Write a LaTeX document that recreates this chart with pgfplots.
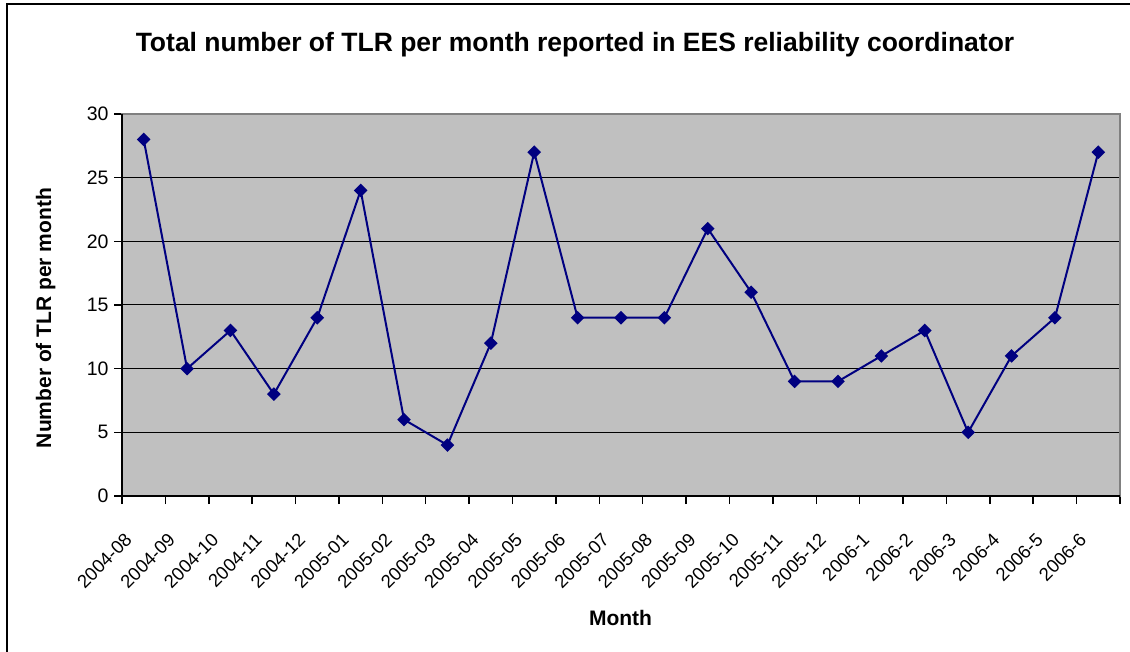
\documentclass[border=0pt]{standalone}
\usepackage{pgfplots}
\pgfplotsset{compat=1.18}
\usepackage{fontspec}
\setmainfont{Liberation Sans}
\definecolor{navy}{RGB}{0,0,128}
\definecolor{plotgray}{RGB}{192,192,192}
\definecolor{framegray}{RGB}{128,128,128}
\begin{document}
\begin{tikzpicture}
\useasboundingbox (0pt,0pt) rectangle (1130pt,651pt);
\draw[line width=2pt] (7pt,-20pt) -- (7pt,647pt) -- (1150pt,647pt);
\node[anchor=base, font=\bfseries\fontsize{26.5}{30}\selectfont] at (575pt,599pt) {Total number of TLR per month reported in EES reliability coordinator};
\node[anchor=base, rotate=90, font=\bfseries\fontsize{21}{24}\selectfont] at (51pt,333pt) {Number of TLR per month};
\node[anchor=base, font=\bfseries\fontsize{21}{24}\selectfont] at (620.5pt,26pt) {Month};
\begin{axis}[at={(122pt,155pt)}, anchor=south west, scale only axis,
  width=998pt, height=382pt,
  xmin=0.5, xmax=23.5, ymin=0, ymax=30,
  axis background/.style={fill=plotgray},
  axis line style={draw=framegray, line width=1.5pt},
  ytick={0,5,...,30},
  ymajorgrids, grid style={black, line width=1pt},
  tick align=outside, tick pos=left,
  major tick length=8pt,
  tick style={black, line width=1.5pt},
  /pgf/number format/assume math mode=true,
  yticklabel style={font=\fontsize{19.5}{21}\selectfont, xshift=-2pt},
  xtick={0.5,1.5,...,23.5},
  xticklabels={},
  extra x ticks={1,...,23},
  extra x tick style={major tick length=0pt},
  extra x tick labels={2004-08,2004-09,2004-10,2004-11,2004-12,2005-01,2005-02,2005-03,2005-04,2005-05,2005-06,2005-07,2005-08,2005-09,2005-10,2005-11,2005-12,2006-1,2006-2,2006-3,2006-4,2006-5,2006-6},
  xticklabel style={font=\fontsize{18.5}{20}\selectfont, inner sep=0pt, xshift=-20pt, yshift=-36pt, rotate=45, anchor=north east},
  clip=false,
]
\addplot[navy, line width=2pt, mark=square*, mark size=3.8pt, mark options={rotate=45, solid, fill=navy}] coordinates {
(1,28) (2,10) (3,13) (4,8) (5,14) (6,24) (7,6) (8,4) (9,12) (10,27) (11,14) (12,14) (13,14) (14,21) (15,16) (16,9) (17,9) (18,11) (19,13) (20,5) (21,11) (22,14) (23,27)
};
\draw[black, line width=2pt] (rel axis cs:0,1) -- (rel axis cs:0,0) -- (rel axis cs:1,0);
\end{axis}
\end{tikzpicture}
\end{document}
